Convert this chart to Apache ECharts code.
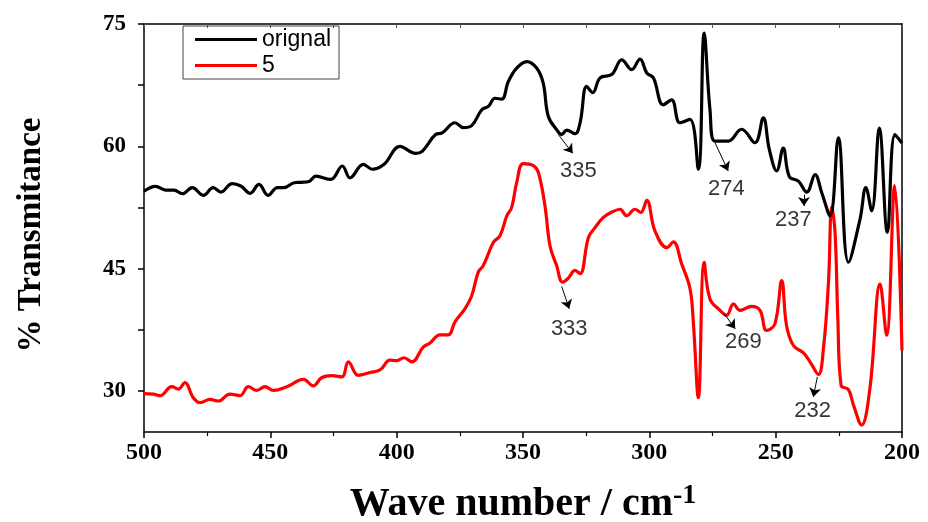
<!DOCTYPE html>
<html>
<head>
<meta charset="utf-8">
<script src="https://cdn.jsdelivr.net/npm/echarts@6/dist/echarts.min.js"></script>
<style>
  html, body { margin: 0; padding: 0; background: #fff; }
  #chart { width: 928px; height: 522px; }
</style>
</head>
<body>
<div id="chart"></div>
<script>
// 原始样品 / 样品5 红外透过率 (wave number, %T)
const seriesNames = ['orignal', '5'];

const originalX = [500, 495.4, 491.4, 488.1, 484.8, 480.9, 476.5, 472.6, 469.6, 465.1, 461.7, 458.0, 454.5, 450.9, 447.2, 444.6, 440.6, 438.0, 434.7, 432.0, 426.1, 421.5, 418.5, 413.2, 409.6, 405.0, 398.7, 392.5, 389.9, 384.6, 382.0, 376.9, 373.6, 370.3, 366.3, 363.7, 361.1, 358.4, 355.8, 352.5, 348.5, 344.6, 342.0, 340.0, 336.7, 334.7, 332.7, 329.4, 327.4, 324.8, 322.4, 319.5, 314.9, 310.9, 307.0, 303.7, 301.0, 298.4, 294.5, 291.2, 287.9, 283.9, 280.6, 278.3, 276.0, 274.0, 268.8, 263.5, 258.2, 254.9, 252.5, 249.6, 247.0, 244.6, 241.0, 237.7, 234.4, 231.8, 228.5, 225.2, 221.2, 216.6, 214.3, 212.0, 209.0, 205.8, 202.8, 200.0];
const originalY = [54.5, 55.1, 54.65, 54.65, 54.2, 54.95, 54.0, 54.95, 54.4, 55.45, 55.15, 54.25, 55.35, 54.0, 54.95, 54.95, 55.55, 55.6, 55.7, 56.35, 55.95, 57.6, 56.15, 57.8, 57.2, 57.8, 60.0, 59.15, 59.4, 61.45, 61.65, 62.9, 62.3, 62.55, 64.5, 64.9, 65.9, 65.8, 67.95, 69.6, 70.4, 69.6, 67.75, 63.7, 62.05, 61.45, 62.0, 61.55, 62.9, 67.35, 66.6, 68.4, 68.8, 70.6, 69.4, 70.7, 69.0, 68.4, 65.1, 65.7, 62.9, 63.3, 57.2, 73.9, 64.5, 60.65, 60.65, 62.1, 60.45, 63.5, 59.6, 57.0, 59.8, 56.3, 55.75, 54.4, 56.55, 54.35, 51.5, 61.05, 45.8, 51.1, 54.95, 52.1, 62.25, 49.45, 61.45, 60.4];

const sample5X = [500, 496.3, 493.7, 489.0, 486.4, 483.8, 480.5, 477.8, 473.9, 470.6, 466.0, 462.0, 458.7, 455.4, 452.1, 448.8, 443.5, 436.9, 433.0, 429.7, 425.7, 421.7, 419.1, 415.2, 410.5, 406.6, 402.6, 400.0, 397.1, 394.0, 389.5, 386.8, 382.9, 379.6, 376.9, 373.0, 370.3, 367.7, 365.7, 361.7, 359.1, 356.4, 354.5, 352.5, 349.9, 345.9, 343.9, 341.3, 339.3, 336.7, 334.3, 332.1, 329.4, 327.4, 324.1, 321.5, 318.2, 314.9, 311.6, 309.0, 305.7, 303.4, 301.0, 297.8, 293.1, 290.5, 287.2, 283.9, 282.6, 280.6, 278.3, 276.0, 272.0, 269.4, 266.7, 264.1, 259.5, 256.2, 253.6, 250.3, 247.6, 245.7, 243.0, 239.0, 236.4, 233.1, 231.1, 229.1, 227.8, 226.5, 225.4, 224.1, 221.2, 219.2, 216.0, 212.7, 208.7, 206.1, 202.9, 200.0];
const sample5Y = [29.7, 29.65, 29.45, 30.55, 30.25, 31.05, 29.2, 28.6, 29.0, 28.8, 29.65, 29.45, 30.55, 30.1, 30.55, 30.1, 30.55, 31.45, 30.65, 31.65, 31.9, 31.75, 33.6, 31.95, 32.3, 32.6, 33.8, 33.75, 34.1, 33.6, 35.4, 35.9, 36.9, 36.9, 38.5, 40.1, 41.7, 44.6, 45.4, 48.25, 49.05, 51.5, 52.5, 55.55, 57.9, 57.65, 56.8, 52.7, 47.8, 45.4, 43.35, 43.85, 44.8, 44.4, 48.85, 50.05, 51.3, 51.95, 52.3, 51.5, 52.3, 51.9, 53.4, 49.65, 47.6, 48.3, 45.6, 42.55, 38.5, 29.2, 45.8, 41.3, 39.9, 39.3, 40.7, 39.9, 40.4, 39.9, 37.45, 38.25, 43.55, 38.05, 35.6, 34.7, 33.6, 32.05, 35.2, 43.35, 52.6, 49.45, 38.9, 30.7, 30.2, 28.3, 25.85, 30.35, 43.15, 36.85, 55.2, 35.0];

// 峰位标注: 文字, 文字位置, 箭头起点, 箭头终点
const noteTexts = ['335', '274', '237', '333', '269', '232'];
const notePos = [[328.1, 57.0], [269.5, 54.75], [243.0, 51.0], [331.7, 37.65], [262.8, 36.0], [235.4, 27.6]];
const arrowFrom = [[336.0, 61.45], [274.0, 60.45], [238.8, 54.1], [334.7, 42.85], [270.4, 39.5], [233.5, 31.75]];
const arrowTo = [[330.3, 59.15], [268.8, 57.0], [238.8, 52.7], [331.7, 40.1], [266.0, 37.65], [235.1, 29.3]];

const yLabels = [30, 45, 60, 75];
const yTicks = [30, 37.5, 45, 52.5, 60, 67.5, 75];

const myChart = echarts.init(document.getElementById('chart'));

const serif = 'Liberation Serif';
const sans = 'Liberation Sans';

const zip = (xs, ys) => xs.map((x, i) => [x, ys[i]]);
const arrows = arrowFrom.map((p, i) => [
  { coord: p, symbol: 'none' },
  { coord: arrowTo[i], symbol: 'arrow' },
]);

const option = {
  backgroundColor: '#fff',
  animation: false,
  grid: { left: 144, right: 26, top: 24, bottom: 90, outerBoundsMode: 'none' },
  legend: {
    orient: 'vertical',
    left: 183,
    top: 26,
    data: [{ name: seriesNames[0], icon: 'rect' }, { name: seriesNames[1], icon: 'rect' }],
    itemWidth: 62,
    itemHeight: 3,
    itemGap: 3,
    itemTextGap: 9,
    borderColor: '#444',
    borderWidth: 1,
    padding: [2, 8, 2, 12],
    textStyle: { fontFamily: sans, fontSize: 23, lineHeight: 20, color: '#000' },
  },
  xAxis: [
    {
      type: 'value',
      inverse: true,
      min: 200,
      max: 500,
      interval: 50,
      name: 'Wave number / cm{sup|-1}',
      nameLocation: 'middle',
      nameGap: 50,
      nameTextStyle: {
        fontFamily: serif,
        fontWeight: 'bold',
        fontSize: 40,
        color: '#000',
        verticalAlign: 'top',
        rich: {
          sup: { fontFamily: serif, fontWeight: 'bold', fontSize: 28, color: '#000', verticalAlign: 'top', padding: [0, 0, 18, 0] },
        },
      },
      axisLine: { onZero: false, lineStyle: { color: '#000', width: 1.5 } },
      axisTick: { inside: false, length: 6, lineStyle: { color: '#000', width: 1.5 } },
      minorTick: { show: true, splitNumber: 2, length: 4, lineStyle: { color: '#000', width: 1.2 } },
      axisLabel: { fontFamily: serif, fontWeight: 'bold', fontSize: 24, color: '#000', margin: 9 },
      splitLine: { show: false },
    },
    {
      type: 'value',
      position: 'top',
      inverse: true,
      min: 200,
      max: 500,
      interval: 50,
      axisLine: { onZero: false, lineStyle: { color: '#000', width: 1.5 } },
      axisTick: { inside: true, length: 4, lineStyle: { color: '#555', width: 1 } },
      minorTick: { show: true, splitNumber: 2, length: 4, lineStyle: { color: '#555', width: 1 } },
      axisLabel: { show: false },
      splitLine: { show: false },
    },
  ],
  yAxis: [
    {
      type: 'value',
      min: 25,
      max: 75,
      name: '% Transmitance',
      nameLocation: 'middle',
      nameGap: 96,
      nameRotate: 90,
      nameTextStyle: { fontFamily: serif, fontWeight: 'bold', fontSize: 33, color: '#000', padding: [0, 14, 0, 0] },
      axisLine: { onZero: false, lineStyle: { color: '#000', width: 1.5 } },
      axisTick: { inside: false, length: 6, customValues: yTicks, lineStyle: { color: '#000', width: 1.5 } },
      axisLabel: { customValues: yLabels, fontFamily: serif, fontWeight: 'bold', fontSize: 23, color: '#000', margin: 18 },
      splitLine: { show: false },
    },
    {
      type: 'value',
      position: 'right',
      min: 25,
      max: 75,
      axisLine: { onZero: false, lineStyle: { color: '#000', width: 1.5 } },
      axisTick: { show: false },
      axisLabel: { show: false },
      splitLine: { show: false },
    },
  ],
  series: [
    {
      name: seriesNames[0],
      type: 'line',
      smooth: 0.4,
      showSymbol: false,
      lineStyle: { color: '#000', width: 3.2 },
      itemStyle: { color: '#000' },
      data: zip(originalX, originalY),
      z: 3,
    },
    {
      name: seriesNames[1],
      type: 'line',
      smooth: 0.4,
      showSymbol: false,
      lineStyle: { color: '#ff0000', width: 3.2 },
      itemStyle: { color: '#ff0000' },
      data: zip(sample5X, sample5Y),
      z: 2,
      markLine: {
        silent: true,
        symbolSize: 9,
        lineStyle: { color: '#000', width: 1, type: 'solid' },
        label: { show: false },
        data: arrows,
        z: 5,
      },
    },
    {
      name: 'notes',
      type: 'scatter',
      symbolSize: 1,
      itemStyle: { color: 'rgba(0,0,0,0)' },
      silent: true,
      label: {
        show: true,
        position: 'inside',
        formatter: (p) => p.value[2],
        fontFamily: sans,
        fontSize: 22,
        color: '#000',
      },
      data: notePos.map((p, i) => [p[0], p[1], noteTexts[i]]),
      z: 6,
    },
  ],
};

myChart.setOption(option);
window.addEventListener('resize', myChart.resize);
</script>
</body>
</html>
